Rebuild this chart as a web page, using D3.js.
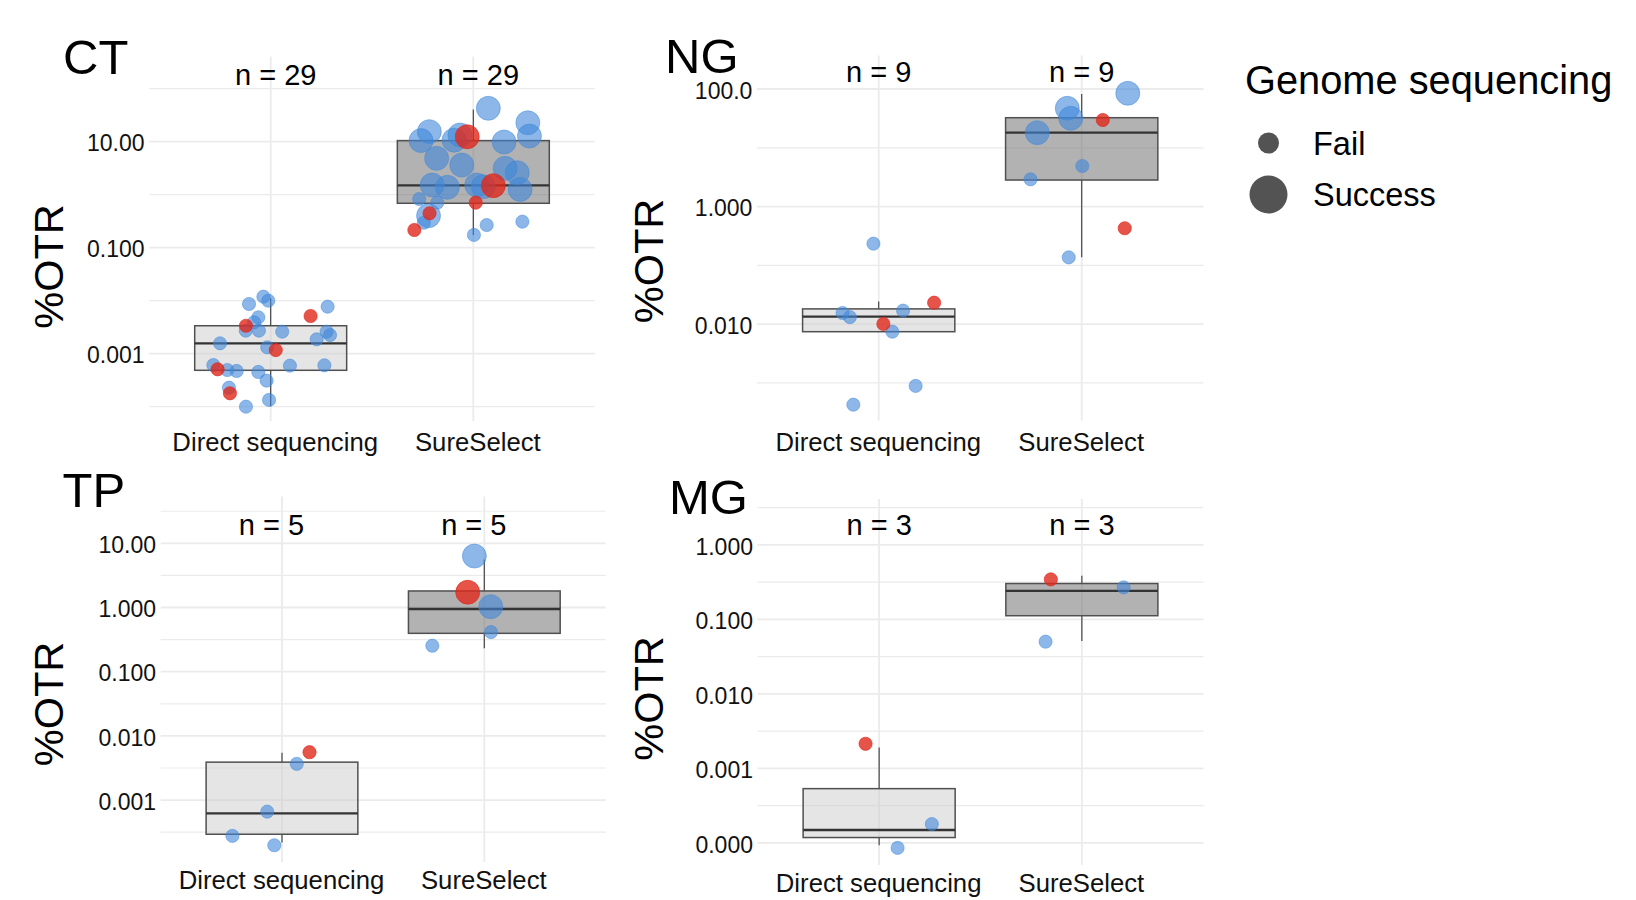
<!DOCTYPE html>
<html><head><meta charset="utf-8">
<script src="https://cdn.jsdelivr.net/npm/d3@7"></script>
<style>
body{margin:0;background:#fff}
svg{display:block}
text{font-family:"Liberation Sans",Arial,Helvetica,sans-serif}
</style>
</head><body>
<svg id="chart" width="1636" height="900"></svg>
<script>
// ---------------- DATA ----------------
const panelNames = ["CT", "NG", "TP", "MG"];
const methods = ["Direct sequencing", "SureSelect"];
const outcomes = ["Fail", "Success"];
const nPerPanel = [29, 9, 5, 3];
const legendTitle = "Genome sequencing";
const yTitle = "%OTR";

// y-axis limits (%OTR, log scale) per panel
const yLimits = [[5.37e-5, 405.5], [2.30e-4, 371.5], [1.086e-4, 53.6], [5.05e-5, 4.13]];
const yMajor = [[0.001, 0.1, 10], [0.01, 1, 100], [0.001, 0.01, 0.1, 1, 10], [0.0001, 0.001, 0.01, 0.1, 1]];
const yTickLabels = [["0.001", "0.100", "10.00"], ["0.010", "1.000", "100.0"],
  ["0.001", "0.010", "0.100", "1.000", "10.00"], ["0.000", "0.001", "0.010", "0.100", "1.000"]];
const yMinor = [[0.0001, 0.01, 1, 100], [0.001, 0.1, 10],
  [0.000316, 0.00316, 0.0316, 0.316, 3.16, 31.6], [0.000316, 0.00316, 0.0316, 0.316, 3.16]];
// height (in %OTR) where the "n = " labels sit
const nLabelY = [117.5, 133, 13.46, 1.358];

// box statistics [lower whisker, Q1, median, Q3, upper whisker] for [Direct, SureSelect]
const boxCT = [[0.000102, 0.000486, 0.00157, 0.00337, 0.0111], [0.174, 0.689, 1.50, 10.5, 40.7]];
const boxNG = [[0.00745, 0.00745, 0.0134, 0.0182, 0.0242], [0.138, 2.83, 18.1, 32.5, 82.2]];
const boxTP = [[0.000218, 0.000294, 0.000622, 0.00390, 0.00545], [0.231, 0.396, 0.948, 1.81, 5.62]];
const boxMG = [[0.0000933, 0.000118, 0.000149, 0.000535, 0.00191], [0.0513, 0.112, 0.242, 0.303, 0.385]];

// points: [method index, jitter offset (category widths), %OTR, outcome index (0 Fail / 1 Success), red flag]
const ptsCT = [
  [0,-0.036,0.0119,0,0],[0,-0.012,0.0100,0,0],[0,-0.107,0.00867,0,0],[0,0.281,0.00771,0,0],
  [0,-0.061,0.00486,0,0],[0,-0.082,0.00391,0,0],[0,-0.123,0.00272,0,0],[0,-0.058,0.00272,0,0],
  [0,0.057,0.00260,0,0],[0,0.276,0.00260,0,0],[0,0.293,0.00225,0,0],[0,0.227,0.00187,0,0],
  [0,-0.250,0.00157,0,0],[0,-0.017,0.00132,0,0],[0,-0.283,0.000612,0,0],[0,-0.214,0.000492,0,0],
  [0,-0.168,0.000472,0,0],[0,-0.061,0.000452,0,0],[0,0.095,0.000594,0,0],[0,0.265,0.000604,0,0],
  [0,-0.020,0.000310,0,0],[0,-0.206,0.000228,0,0],[0,-0.008,0.000134,0,0],[0,-0.122,0.000100,0,0],
  [0,0.197,0.00514,0,1],[0,-0.122,0.00337,0,1],[0,0.025,0.00117,0,1],[0,-0.262,0.000508,0,1],
  [0,-0.201,0.000179,0,1],
  [1,0.074,42.7,1,0],[1,0.269,22.8,1,0],[1,-0.217,15.5,1,0],[1,-0.258,10.5,1,0],
  [1,-0.066,13.4,1,0],[1,-0.095,10.7,1,0],[1,0.277,12.8,1,0],[1,0.152,9.86,1,0],
  [1,-0.181,4.86,1,0],[1,-0.057,3.63,1,0],[1,0.157,3.15,1,0],[1,0.217,2.60,1,0],
  [1,-0.203,1.52,1,0],[1,-0.128,1.38,1,0],[1,0.017,1.52,1,0],[1,0.049,1.42,1,0],
  [1,0.231,1.26,1,0],[1,-0.221,0.402,1,0],[1,-0.030,12.4,1,1],[1,0.099,1.48,1,1],
  [1,-0.267,0.830,0,0],[1,-0.178,0.708,0,0],[1,-0.244,0.296,0,0],[1,0.066,0.268,0,0],
  [1,0.242,0.310,0,0],[1,0.003,0.174,0,0],[1,0.012,0.708,0,1],[1,-0.216,0.446,0,1],
  [1,-0.291,0.216,0,1]
];
const ptsNG = [
  [0,-0.026,0.234,0,0],[0,-0.178,0.0155,0,0],[0,-0.142,0.0132,0,0],[0,0.120,0.0170,0,0],
  [0,0.067,0.00745,0,0],[0,0.182,0.000891,0,0],[0,-0.125,0.000427,0,0],[0,0.273,0.0232,0,1],
  [0,0.023,0.0101,0,1],
  [1,0.227,84.5,1,0],[1,-0.071,47.0,1,0],[1,-0.054,31.7,1,0],[1,-0.219,18.1,1,0],
  [1,0.003,4.90,0,0],[1,-0.252,2.91,0,0],[1,-0.064,0.137,0,0],[1,0.104,29.7,0,1],
  [1,0.212,0.428,0,1]
];
const ptsTP = [
  [0,0.136,0.00557,0,1],[0,0.073,0.00367,0,0],[0,-0.073,0.000661,0,0],[0,-0.245,0.000277,0,0],
  [0,-0.038,0.000198,0,0],
  [1,-0.049,6.34,1,0],[1,-0.082,1.73,1,1],[1,0.032,1.03,1,0],[1,0.033,0.415,0,0],
  [1,-0.257,0.254,0,0]
];
const ptsMG = [
  [0,-0.067,0.00214,0,1],[0,0.260,0.000179,0,0],[0,0.091,0.0000857,0,0],
  [1,-0.153,0.344,0,1],[1,0.206,0.269,0,0],[1,-0.179,0.0502,0,0]
];

const boxes = [boxCT, boxNG, boxTP, boxMG];
const points = [ptsCT, ptsNG, ptsTP, ptsMG];

// ---------------- LAYOUT / STYLE ----------------
const layout = [
  {l:149.1, r:594.9, t:56.5, b:421, tx:63, ty:73.5, yx:63, yy:266.5, xlab:30, ndx:5, xdx:4},
  {l:756.9, r:1203.5, t:55.5, b:420.5, tx:665, ty:72.5, yx:663, yy:261, xlab:30.5, ndx:0, xdx:-1},
  {l:160.6, r:605.7, t:496.5, b:862, tx:62.5, ty:507, yx:63, yy:704, xlab:26.5, ndx:-10.5, xdx:-1},
  {l:757.5, r:1203.5, t:499, b:865, tx:669, ty:514, yx:663, yy:698.5, xlab:26.5, ndx:0, xdx:-1}
];
const boxFill = ["#cccccc", "#666666"];
const ptColor = ["#3f87d9", "#e0281c"];
const ptOpacity = [0.6, 0.8];
const ptRadius = [6.6, 12];
const gridCol = "#ebebeb";

const svg = d3.select("#chart");

panelNames.forEach((name, i) => {
  const L = layout[i];
  const g = svg.append("g");
  const x = d3.scalePoint().domain(methods).range([L.l, L.r]).padding(0.6);
  const step = x.step();
  const y = d3.scaleLog().domain(yLimits[i]).range([L.b, L.t]);

  // gridlines
  g.selectAll(".minor").data(yMinor[i]).join("line")
    .attr("x1", L.l).attr("x2", L.r).attr("y1", d => y(d)).attr("y2", d => y(d))
    .attr("stroke", gridCol).attr("stroke-width", 1.2);
  g.selectAll(".major").data(yMajor[i]).join("line")
    .attr("x1", L.l).attr("x2", L.r).attr("y1", d => y(d)).attr("y2", d => y(d))
    .attr("stroke", gridCol).attr("stroke-width", 1.8);
  g.selectAll(".vgrid").data(methods).join("line")
    .attr("x1", d => x(d)).attr("x2", d => x(d)).attr("y1", L.t).attr("y2", L.b)
    .attr("stroke", gridCol).attr("stroke-width", 1.8);

  // y axis
  const ya = g.append("g").attr("transform", `translate(${L.l},0)`)
    .call(d3.axisLeft(y).tickValues(yMajor[i]).tickFormat((d, k) => yTickLabels[i][k]).tickSize(0).tickPadding(4.5));
  ya.select(".domain").remove();
  ya.selectAll("text").attr("font-size", 23).attr("fill", "#111").attr("dy", "0.4em")
    .attr("font-family", '"Liberation Sans",Arial,sans-serif');

  // x axis
  const xa = g.append("g").attr("transform", `translate(0,${L.b})`)
    .call(d3.axisBottom(x).tickSize(0).tickPadding(0));
  xa.select(".domain").remove();
  xa.selectAll("text").attr("font-size", 25.7).attr("fill", "#111").attr("dy", 0)
    .attr("y", L.xlab).attr("dx", L.xdx)
    .attr("font-family", '"Liberation Sans",Arial,sans-serif');

  // boxplots
  const bx = g.selectAll(".box").data(boxes[i]).join("g");
  bx.append("line")
    .attr("x1", (d, k) => x(methods[k])).attr("x2", (d, k) => x(methods[k]))
    .attr("y1", d => y(d[3])).attr("y2", d => y(d[4]))
    .attr("stroke", "#454545").attr("stroke-width", 1.2);
  bx.append("line")
    .attr("x1", (d, k) => x(methods[k])).attr("x2", (d, k) => x(methods[k]))
    .attr("y1", d => y(d[1])).attr("y2", d => y(d[0]))
    .attr("stroke", "#454545").attr("stroke-width", 1.2);
  bx.append("rect")
    .attr("x", (d, k) => x(methods[k]) - 0.375 * step).attr("width", 0.75 * step)
    .attr("y", d => y(d[3])).attr("height", d => y(d[1]) - y(d[3]))
    .attr("fill", (d, k) => boxFill[k]).attr("fill-opacity", 0.5)
    .attr("stroke", "#505050").attr("stroke-width", 1.5);
  bx.append("line")
    .attr("x1", (d, k) => x(methods[k]) - 0.375 * step).attr("x2", (d, k) => x(methods[k]) + 0.375 * step)
    .attr("y1", d => y(d[2])).attr("y2", d => y(d[2]))
    .attr("stroke", "#333").attr("stroke-width", 2.3);

  // points (Success drawn first, then Fail)
  const pts = points[i].slice().sort((a, b) => b[3] - a[3]);
  g.selectAll(".pt").data(pts).join("circle")
    .attr("cx", d => x(methods[d[0]]) + d[1] * step)
    .attr("cy", d => y(d[2]))
    .attr("r", d => ptRadius[d[3]])
    .attr("fill", d => ptColor[d[4]]).attr("fill-opacity", d => ptOpacity[d[4]])
    .attr("stroke", d => ptColor[d[4]]).attr("stroke-opacity", d => ptOpacity[d[4]] * 0.8)
    .attr("stroke-width", 1);

  // n labels
  g.selectAll(".nlab").data(methods).join("text")
    .attr("x", d => x(d) + L.ndx).attr("y", y(nLabelY[i]))
    .attr("text-anchor", "middle").attr("font-size", 29).attr("fill", "#000")
    .text(() => `n = ${nPerPanel[i]}`);

  // panel title
  g.append("text").attr("x", L.tx).attr("y", L.ty)
    .attr("font-size", 49).attr("fill", "#000").text(name);

  // y title
  g.append("text").attr("transform", `translate(${L.yx},${L.yy}) rotate(-90)`)
    .attr("text-anchor", "middle").attr("font-size", 41.5).attr("fill", "#000").text(yTitle);
});

// legend
const lg = svg.append("g");
lg.append("text").attr("x", 1245).attr("y", 94).attr("font-size", 39.8).attr("fill", "#000").text(legendTitle);
const legR = [10.5, 19];
const legY = [143, 194.5];
lg.selectAll(".lc").data(outcomes).join("circle")
  .attr("cx", 1268.5).attr("cy", (d, k) => legY[k]).attr("r", (d, k) => legR[k])
  .attr("fill", "#535353");
lg.selectAll(".lt").data(outcomes).join("text")
  .attr("x", 1313).attr("y", (d, k) => legY[k] + 11.5)
  .attr("font-size", 32.5).attr("fill", "#000").text(d => d);
</script>
</body></html>
